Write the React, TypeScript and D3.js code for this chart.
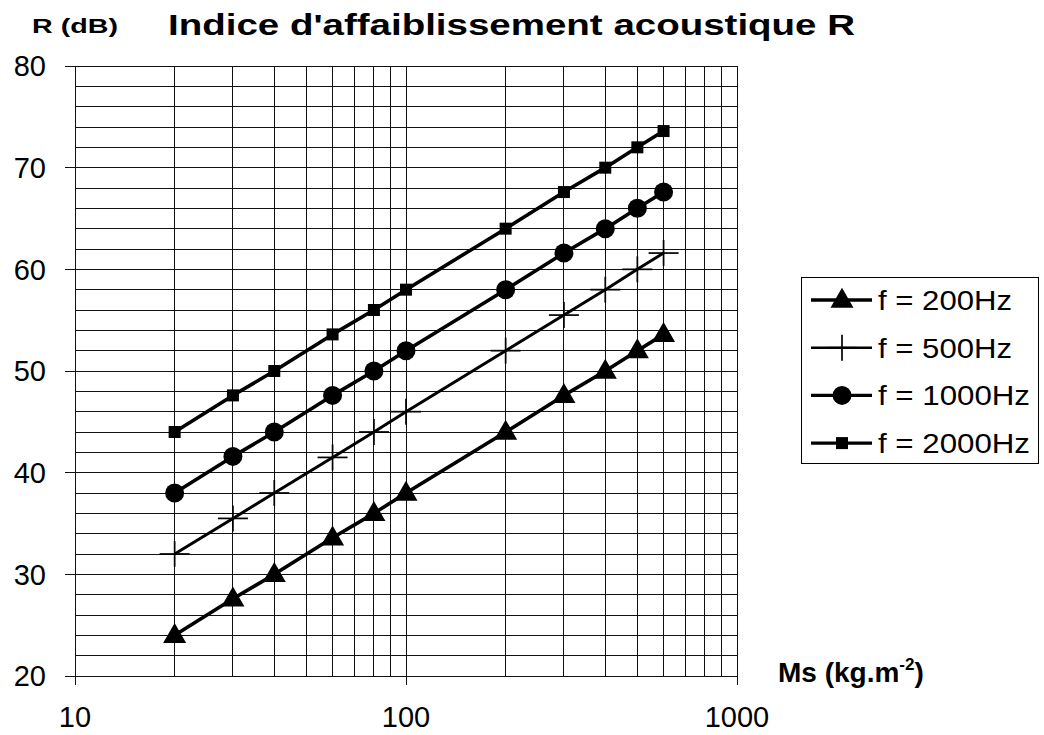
import React from 'react';
import * as d3 from 'd3';

// Surface mass (kg/m2) and sound reduction index R (dB) per frequency
const masses = [20, 30, 40, 60, 80, 100, 200, 300, 400, 500, 600];
const r200 = [24, 27.6, 30, 33.6, 36, 38, 44, 47.6, 50, 52, 53.6];
const r500 = [32, 35.5, 38, 41.5, 44, 46, 52, 55.5, 58, 60, 61.6];
const r1000 = [38, 41.6, 44, 47.6, 50, 52, 58, 61.6, 64, 66, 67.6];
const r2000 = [44, 47.6, 50, 53.6, 56, 58, 64, 67.6, 70, 72, 73.6];

const seriesNames = ['f = 200Hz', 'f = 500Hz', 'f = 1000Hz', 'f = 2000Hz'];
const seriesValues = [r200, r500, r1000, r2000];
const markerTypes = ['triangle', 'cross', 'circle', 'square'];

const xLabels = [10, 100, 1000];
const yLabels = [20, 30, 40, 50, 60, 70, 80];

const FONT = "'Liberation Sans', Arial, sans-serif";

const Marker = ({ type, cx, cy }: { type: string; cx: number; cy: number }) => {
  if (type === 'triangle') {
    const sym = d3.symbol().type(d3.symbolTriangle).size(230)();
    return <path d={sym!} transform={`translate(${cx},${cy + 1})`} fill="#000" />;
  }
  if (type === 'circle') {
    return <circle cx={cx} cy={cy} r={9.5} fill="#000" />;
  }
  if (type === 'square') {
    return <rect x={cx - 6} y={cy - 6} width={12} height={12} fill="#000" />;
  }
  // cross
  return (
    <g stroke="#000" strokeWidth={1.7}>
      <line x1={cx - 15} x2={cx + 15} y1={cy} y2={cy} />
      <line x1={cx} x2={cx} y1={cy - 13} y2={cy + 13} />
    </g>
  );
};

const App = () => {
  const left = 75;
  const right = 737;
  const top = 66;
  const bottom = 676;

  const x = d3.scaleLog().domain([10, 1000]).range([left, right]);
  const y = d3.scaleLinear().domain([20, 80]).range([bottom, top]);

  const vGrid = x.ticks();
  const hGrid = d3.range(20, 81, 2);

  const line = d3
    .line<[number, number]>()
    .x((d) => x(d[0]))
    .y((d) => y(d[1]));

  const legendX = 801;
  const legendY = 277;
  const rowGap = 47.7;
  const legendWidths = [134, 134, 152, 152];

  return (
    <svg
      width={1044}
      height={735}
      style={{ position: 'absolute', left: 0, top: 0, background: '#fff' }}
      fontFamily={FONT}
    >
      {/* grid */}
      <g stroke="#111" strokeWidth={1} shapeRendering="crispEdges">
        {hGrid.map((v) => (
          <line key={'h' + v} x1={left} x2={right} y1={y(v)} y2={y(v)} />
        ))}
        {vGrid.map((v) => (
          <line key={'v' + v} x1={x(v)} x2={x(v)} y1={top} y2={bottom} />
        ))}
        {yLabels.map((v) => (
          <line key={'yt' + v} x1={left - 10} x2={left} y1={y(v)} y2={y(v)} />
        ))}
        {xLabels.map((v) => (
          <line key={'xt' + v} x1={x(v)} x2={x(v)} y1={bottom} y2={bottom + 9} />
        ))}
      </g>

      {/* axis labels */}
      {yLabels.map((v) => (
        <text key={'yl' + v} x={46} y={y(v)} dy="0.36em" textAnchor="end" fontSize={29}>
          {v}
        </text>
      ))}
      {xLabels.map((v) => (
        <text key={'xl' + v} x={x(v)} y={727} textAnchor="middle" fontSize={29}>
          {v}
        </text>
      ))}

      {/* series */}
      {seriesValues.map((vals, i) => {
        const pts = masses.map((m, j) => [m, vals[j]] as [number, number]);
        return (
          <g key={'s' + i}>
            <path
              d={line(pts)!}
              fill="none"
              stroke="#000"
              strokeWidth={i === 1 ? 3 : 3.6}
              strokeLinejoin="round"
            />
            {pts.map((p, j) => (
              <Marker key={j} type={markerTypes[i]} cx={x(p[0])} cy={y(p[1])} />
            ))}
          </g>
        );
      })}

      {/* titles */}
      <text x={168} y={35} fontSize={29} fontWeight="bold" textLength={687} lengthAdjust="spacingAndGlyphs">
        Indice d'affaiblissement acoustique R
      </text>
      <text x={32} y={33} fontSize={21} fontWeight="bold" textLength={86} lengthAdjust="spacingAndGlyphs">
        R (dB)
      </text>
      <text x={778} y={682} fontSize={28} fontWeight="bold">
        Ms (kg.m
        <tspan fontSize={17} dy={-12}>-2</tspan>
        <tspan dy={12}>)</tspan>
      </text>

      {/* legend */}
      <rect x={legendX} y={legendY} width={237} height={186} fill="#fff" stroke="#000" strokeWidth={1} shapeRendering="crispEdges" />
      {seriesNames.map((name, i) => {
        const cy = legendY + 23 + i * rowGap;
        return (
          <g key={'lg' + i}>
            <line x1={811} x2={872} y1={cy} y2={cy} stroke="#000" strokeWidth={i === 1 ? 2.6 : 3.4} />
            <Marker type={markerTypes[i]} cx={842} cy={cy} />
            <text x={878} y={cy + 10} fontSize={28} textLength={legendWidths[i]} lengthAdjust="spacingAndGlyphs">
              {name}
            </text>
          </g>
        );
      })}
    </svg>
  );
};

export default App;
